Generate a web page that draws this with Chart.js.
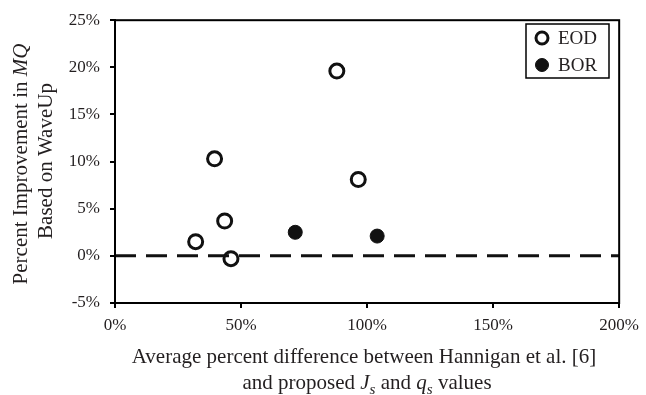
<!DOCTYPE html>
<html>
<head>
<meta charset="utf-8">
<script src="https://cdn.jsdelivr.net/npm/chart.js@4"></script>
<style>
  html, body { margin: 0; padding: 0; background: #fff; }
  #wrap { width: 646px; height: 395px; }
</style>
</head>
<body>
<div id="wrap"><canvas id="chart" width="646" height="395"></canvas></div>
<script>
// --- data ---
const eodX = [32, 39.5, 43.5, 46, 88, 96.5];
const eodY = [1.5, 10.3, 3.7, -0.3, 19.6, 8.1];
const borX = [71.5, 104];
const borY = [2.5, 2.1];
const zeroLineX = [0, 200];
const zeroLineY = [0, 0];
const xRange = [0, 200, 50];
const yRange = [-5, 25, 5];

const serif = '"Liberation Serif", "Times New Roman", serif';

// draw a line of mixed runs (italic / subscript) centred at cx, on baseline cy
function drawRuns(ctx, runs, cx, cy, size) {
    const fontFor = r => (r.italic ? 'italic ' : '') + (r.sub ? size * 0.72 : size) + 'px ' + serif;
    let total = 0;
    runs.forEach(r => { ctx.font = fontFor(r); total += ctx.measureText(r.t).width; });
    let x = cx - total / 2;
    runs.forEach(r => {
        ctx.font = fontFor(r);
        ctx.fillText(r.t, x, r.sub ? cy + size * 0.25 : cy);
        x += ctx.measureText(r.t).width;
    });
}

const framePlugin = {
    id: 'frame',
    afterDraw(chart) {
        const { ctx, chartArea: a } = chart;
        ctx.save();
        // box around plot
        ctx.strokeStyle = '#000';
        ctx.lineWidth = 2;
        ctx.strokeRect(a.left, a.top, a.right - a.left, a.bottom - a.top);

        // axis titles
        ctx.fillStyle = '#231f20';
        ctx.textBaseline = 'alphabetic';
        ctx.textAlign = 'left';
        drawRuns(ctx, [{ t: 'Average percent difference between Hannigan et al. [6]' }], 364, 363, 21);
        drawRuns(ctx, [
            { t: 'and proposed ' }, { t: 'J', italic: true }, { t: 's', italic: true, sub: true },
            { t: ' and ' }, { t: 'q', italic: true }, { t: 's', italic: true, sub: true }, { t: ' values' }
        ], 367, 389, 21);

        ctx.save();
        ctx.translate(27, 164);
        ctx.rotate(-Math.PI / 2);
        drawRuns(ctx, [{ t: 'Percent Improvement in ' }, { t: 'MQ', italic: true }], 0, 0, 21);
        ctx.restore();
        ctx.save();
        ctx.translate(52, 161);
        ctx.rotate(-Math.PI / 2);
        drawRuns(ctx, [{ t: 'Based on WaveUp' }], 0, 0, 21);
        ctx.restore();

        // legend box (inside top-right)
        const lx = 526, ly = 24, lw = 83, lh = 54;
        ctx.fillStyle = '#fff';
        ctx.fillRect(lx, ly, lw, lh);
        ctx.lineWidth = 1.5;
        ctx.strokeStyle = '#000';
        ctx.strokeRect(lx, ly, lw, lh);
        ctx.textBaseline = 'middle';
        const items = chart.data.datasets.filter(d => d.showInLegend);
        items.forEach((d, i) => {
            const y = ly + 14 + i * 27;
            ctx.beginPath();
            ctx.arc(lx + 16, y, d.legendRadius, 0, Math.PI * 2);
            if (d.backgroundColor !== '#fff') {
                ctx.fillStyle = d.backgroundColor;
                ctx.fill();
            }
            ctx.lineWidth = d.borderWidth;
            ctx.strokeStyle = '#111';
            ctx.stroke();
            ctx.fillStyle = '#231f20';
            ctx.font = '19px ' + serif;
            ctx.fillText(d.label, lx + 32, y + 1);
        });
        ctx.restore();
    }
};

new Chart(document.getElementById('chart'), {
    type: 'scatter',
    data: {
        datasets: [
            {
                label: 'zero',
                type: 'line',
                data: zeroLineX.map((x, i) => ({ x: x, y: zeroLineY[i] })),
                borderColor: '#111',
                borderWidth: 3,
                borderDash: [21, 10],
                pointRadius: 0,
                clip: false
            },
            {
                label: 'EOD',
                showInLegend: true,
                legendRadius: 6,
                data: eodX.map((x, i) => ({ x: x, y: eodY[i] })),
                backgroundColor: '#fff',
                borderColor: '#111',
                borderWidth: 3,
                pointRadius: 7
            },
            {
                label: 'BOR',
                showInLegend: true,
                legendRadius: 6.5,
                data: borX.map((x, i) => ({ x: x, y: borY[i] })),
                backgroundColor: '#111',
                borderColor: '#111',
                borderWidth: 1,
                pointRadius: 7
            }
        ]
    },
    options: {
        responsive: false,
        animation: false,
        layout: { padding: { left: 0, right: 24, top: 17, bottom: 0 } },
        plugins: { legend: { display: false }, tooltip: { enabled: false } },
        scales: {
            x: {
                type: 'linear',
                min: xRange[0], max: xRange[1],
                ticks: {
                    stepSize: xRange[2],
                    color: '#231f20',
                    padding: 7,
                    font: { family: serif, size: 17 },
                    callback: v => v + '%'
                },
                grid: { drawOnChartArea: false, drawTicks: true, tickLength: 5, color: '#000', lineWidth: 2 },
                border: { display: true, color: '#000', width: 2 },
                afterFit: s => { s.height = 92; }
            },
            y: {
                min: yRange[0], max: yRange[1],
                ticks: {
                    stepSize: yRange[2],
                    color: '#231f20',
                    padding: 10,
                    font: { family: serif, size: 17 },
                    callback: v => v + '%'
                },
                grid: { drawOnChartArea: false, drawTicks: true, tickLength: 5, color: '#000', lineWidth: 2 },
                border: { display: true, color: '#000', width: 2 },
                afterFit: s => { s.width = 115; }
            }
        }
    },
    plugins: [framePlugin]
});
</script>
</body>
</html>
